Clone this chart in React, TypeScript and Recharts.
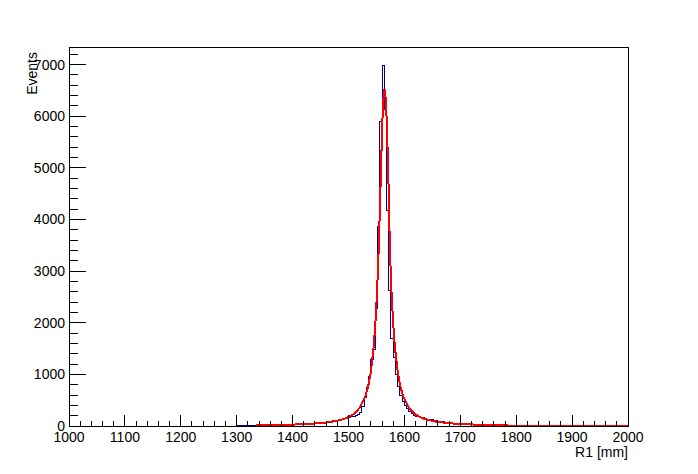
import React from "react";
import { ComposedChart, Line, XAxis, YAxis, ReferenceArea } from "recharts";

// Histogram: 4 mm bins starting at 1300 mm (all other bins empty)
const BIN_START = 1300;
const BIN_WIDTH = 4;
const counts = [
  5, 7, 4, 8, 6, 9, 7, 10, 9,
  12, 10, 14, 13, 16, 15, 18, 17, 20, 19, 22, 21, 24, 23, 27, 28,
  30, 32, 50, 55, 50, 38, 40, 45, 48, 55,
  65, 70, 72, 68, 75, 80, 85, 90, 100, 105,
  110, 120, 130, 140, 150, 160, 175, 190, 205, 225,
  258, 374, 543, 736, 955, 1292, 1486, 2270, 3860, 5905,
  6990, 6120, 4170, 2620, 1690, 1318, 988, 762, 600, 480,
  400, 330, 280, 240, 210, 190, 175, 165, 155, 145,
  130, 120, 118, 116, 110, 90, 84, 80, 70, 65,
  60, 58, 55, 58, 55, 45, 40, 38, 35, 30,
  28, 26, 24, 22, 20, 19, 18, 17, 16, 15,
  14, 13, 13, 12, 11, 11, 10, 9, 9, 8,
];

// Fit curve (red)
const fitX = [
  1335, 1350, 1375, 1400, 1425, 1450, 1470, 1490, 1500, 1510, 1520, 1530, 1535,
  1540, 1545, 1548, 1551, 1554, 1557, 1560, 1562, 1564.5, 1567, 1569, 1572, 1574,
  1577, 1580, 1583, 1588, 1593, 1598, 1608, 1618, 1628, 1638, 1658, 1678, 1703,
  1728, 1753, 1785,
];
const fitY = [
  14, 16, 20, 27, 37, 55, 81, 129, 171, 238, 351, 568, 757,
  1050, 1529, 1967, 2580, 3424, 4522, 5703, 6302, 6530, 6302, 5703, 4522, 3424,
  2580, 1967, 1529, 1050, 757, 568, 351, 238, 171, 129, 81, 55, 37,
  27, 20, 15,
];
const tailX = [1785, 2000];
const tailY = [15, 8];

const X_MIN = 1000;
const X_MAX = 2000;
const Y_MAX = 7340;
const xMajorTicks = [1000, 1100, 1200, 1300, 1400, 1500, 1600, 1700, 1800, 1900, 2000];
const yMajorTicks = [0, 1000, 2000, 3000, 4000, 5000, 6000, 7000];

const xTicks: number[] = [];
for (let v = X_MIN; v <= X_MAX; v += 20) xTicks.push(v);
const yTicks: number[] = [];
for (let v = 0; v <= 7200; v += 200) yTicks.push(v);

const histData: { x: number; y: number }[] = [{ x: BIN_START, y: 0 }];
counts.forEach((c, i) => histData.push({ x: BIN_START + i * BIN_WIDTH, y: c }));
histData.push({ x: BIN_START + counts.length * BIN_WIDTH, y: 0 });

const fitData = fitX.map((x, i) => ({ x, y: fitY[i] }));
const tailData = tailX.map((x, i) => ({ x, y: tailY[i] }));

const FONT = "'Liberation Sans', Arial, Helvetica, sans-serif";

const XTick = (props: any) => {
  const { x, y, payload } = props;
  const v = payload.value;
  const major = xMajorTicks.includes(v);
  return (
    <g>
      <line x1={x} x2={x} y1={y} y2={y - (major ? 11 : 5.5)} stroke="#000" strokeWidth={1} />
      {major && (
        <text x={x} y={y + 16} textAnchor="middle" fontFamily={FONT} fontSize={14} fill="#000">
          {v}
        </text>
      )}
    </g>
  );
};

const YTick = (props: any) => {
  const { x, y, payload } = props;
  const v = payload.value;
  const major = yMajorTicks.includes(v);
  return (
    <g>
      <line x1={x} x2={x + (major ? 17 : 8.5)} y1={y} y2={y} stroke="#000" strokeWidth={1} />
      {major && (
        <text x={x - 4} y={y + 5} textAnchor="end" fontFamily={FONT} fontSize={14} fill="#000">
          {v}
        </text>
      )}
    </g>
  );
};

export default function App() {
  return (
    <div style={{ position: "absolute", left: 0, top: 0, width: 698, height: 474, background: "#fff" }}>
      <style>{`.recharts-wrapper path, .recharts-wrapper line, .recharts-wrapper rect { shape-rendering: crispEdges; }`}</style>
      <ComposedChart width={698} height={474} margin={{ top: 47, right: 70, left: 9, bottom: 8 }}>
        <XAxis
          dataKey="x"
          type="number"
          domain={[X_MIN, X_MAX]}
          allowDataOverflow
          ticks={xTicks}
          interval={0}
          tickSize={0}
          tickMargin={0}
          tick={XTick}
          height={40}
          stroke="#000"
          label={{
            content: (p: any) => (
              <text
                x={p.viewBox.x + p.viewBox.width}
                y={p.viewBox.y + 31}
                textAnchor="end"
                fontFamily={FONT}
                fontSize={14}
                fill="#000"
              >
                R1 [mm]
              </text>
            ),
          }}
        />
        <YAxis
          type="number"
          domain={[0, Y_MAX]}
          allowDataOverflow
          ticks={yTicks}
          interval={0}
          tickSize={0}
          tickMargin={0}
          tick={YTick}
          width={60}
          stroke="#000"
          label={{
            content: (p: any) => {
              const lx = p.viewBox.x + 27.5;
              const ly = p.viewBox.y + 5;
              return (
                <text
                  x={lx}
                  y={ly}
                  transform={`rotate(-90 ${lx} ${ly})`}
                  textAnchor="end"
                  fontFamily={FONT}
                  fontSize={14}
                  fill="#000"
                >
                  Events
                </text>
              );
            },
          }}
        />
        <ReferenceArea
          x1={X_MIN}
          x2={X_MAX}
          y1={0}
          y2={Y_MAX}
          fill="none"
          fillOpacity={0}
          stroke="#000"
          strokeWidth={1}
          ifOverflow="visible"
        />
        <Line
          data={histData}
          dataKey="y"
          type="stepAfter"
          stroke="#000099"
          strokeWidth={1}
          dot={false}
          activeDot={false}
          isAnimationActive={false}
        />
        <Line
          data={tailData}
          dataKey="y"
          type="linear"
          stroke="#ff0000"
          strokeWidth={1}
          dot={false}
          activeDot={false}
          isAnimationActive={false}
        />
        <Line
          data={fitData}
          dataKey="y"
          type="linear"
          stroke="#ff0000"
          strokeWidth={2}
          dot={false}
          activeDot={false}
          isAnimationActive={false}
        />
      </ComposedChart>
    </div>
  );
}
